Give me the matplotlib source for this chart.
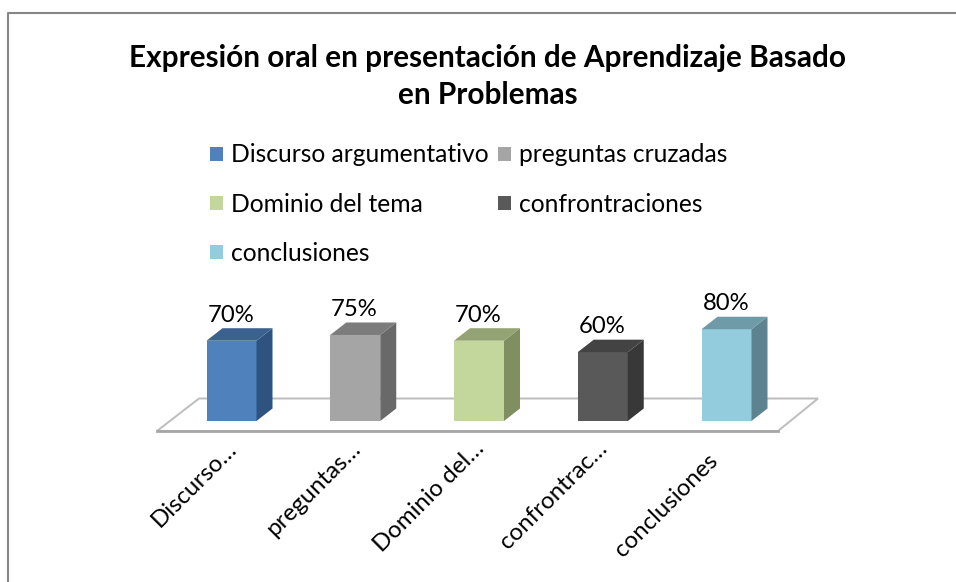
import matplotlib
matplotlib.use("Agg")
import matplotlib.pyplot as plt
from matplotlib.patches import Polygon, Patch
from matplotlib.lines import Line2D

plt.rcParams['font.family'] = ['Lato', 'DejaVu Sans']

title = "Expresión oral en presentación de Aprendizaje Basado\nen Problemas"
legend_labels = ["Discurso argumentativo", "preguntas cruzadas", "Dominio del tema",
                 "confrontraciones", "conclusiones"]
tick_labels = ["Discurso…", "preguntas…", "Dominio del…", "confrontrac…", "conclusiones"]
values = [70, 75, 70, 60, 80]
front_colors = ["#4F81BD", "#A5A5A5", "#C3D69B", "#595959", "#93CDDD"]
side_colors = ["#2F5380", "#696969", "#7F8F62", "#383838", "#5E8390"]
top_colors = ["#3A618F", "#7C7C7C", "#93A373", "#434343", "#6F9AA8"]

W, H = 956, 582
fig = plt.figure(figsize=(W / 100, H / 100), dpi=100, facecolor="white")
ax = fig.add_axes([0, 0, 1, 1])
ax.axis("off")

# scales: category spacing and percent scale in pixels
X0, DX = 231.5, 123.75
Y0, DY = 421.0, 1.147
ax.set_xlim((0 - X0) / DX, (W - X0) / DX)
ax.set_ylim((Y0 - H) / DY, (Y0 - 0) / DY)

hw = 25 / DX
dep_x = 16 / DX
dep_y = 12.5 / DY

def fx(p): return p / W
def fy(p): return 1 - p / H

# chart frame
fig.add_artist(Line2D([fx(8), fx(8), 1], [0, fy(13), fy(13)], color="#868686", lw=1.5))

# floor
fl = [(157, 431), (778, 431), (818, 398.5), (199, 398.5)]
fl_d = [((a - X0) / DX, (Y0 - b) / DY) for a, b in fl]
ax.add_patch(Polygon(fl_d, closed=True, fc="white", ec="#BDBDBD", lw=1.4, zorder=1))
ax.plot([fl_d[0][0], fl_d[1][0]], [fl_d[0][1]] * 2, color="#A6A6A6", lw=2, zorder=1.5)

# 3D columns
for i, v in enumerate(values):
    l, r = i - hw, i + hw
    ax.add_patch(Polygon([(l, 0), (r, 0), (r, v), (l, v)], fc=front_colors[i], ec="none", zorder=3))
    ax.add_patch(Polygon([(r, 0), (r + dep_x, dep_y), (r + dep_x, v + dep_y), (r, v)],
                         fc=side_colors[i], ec="none", zorder=3))
    ax.add_patch(Polygon([(l, v), (r, v), (r + dep_x, v + dep_y), (l + dep_x, v + dep_y)],
                         fc=top_colors[i], ec="none", zorder=3))
    ax.annotate(f"{v}%", xy=(i, v), xytext=(-0.5, 18.5), textcoords="offset points",
                ha="center", va="center", fontsize=17.2, color="black", zorder=4)

# title
fig.text(fx(487.5), fy(57.5), title.split("\n")[0], ha="center", va="center",
         fontsize=21.4, fontweight="bold", color="black")
fig.text(fx(487.5), fy(95.5), title.split("\n")[1], ha="center", va="center",
         fontsize=21.4, fontweight="bold", color="black")

# legend
fs = 17.7
order = [0, 2, 4, 1, 3]
handles = [Patch(fc=front_colors[k], ec="none", label=legend_labels[k]) for k in order]
leg = ax.legend(handles=handles, ncol=2, frameon=False, fontsize=fs,
                loc="upper left", bbox_to_anchor=(fx(210), fy(143.5)), bbox_transform=fig.transFigure,
                borderpad=0, borderaxespad=0,
                handlelength=9.4 / fs, handleheight=9.4 / fs, handletextpad=5.8 / fs,
                labelspacing=1.06, columnspacing=6.5 / fs)

# category labels: offsets from each category position, in points
label_offsets = [(1.1, -17.3), (1.1, -17.3), (1.1, -17.3), (1.1, -17.3), (-9, -26)]
for i, (t, off) in enumerate(zip(tick_labels, label_offsets)):
    ax.annotate(t, xy=(i, 0), xytext=off, textcoords="offset points", rotation=45,
                rotation_mode="anchor", ha="right", va="center", fontsize=17.3, color="black")

fig.savefig("out.png", dpi=100, facecolor="white")
